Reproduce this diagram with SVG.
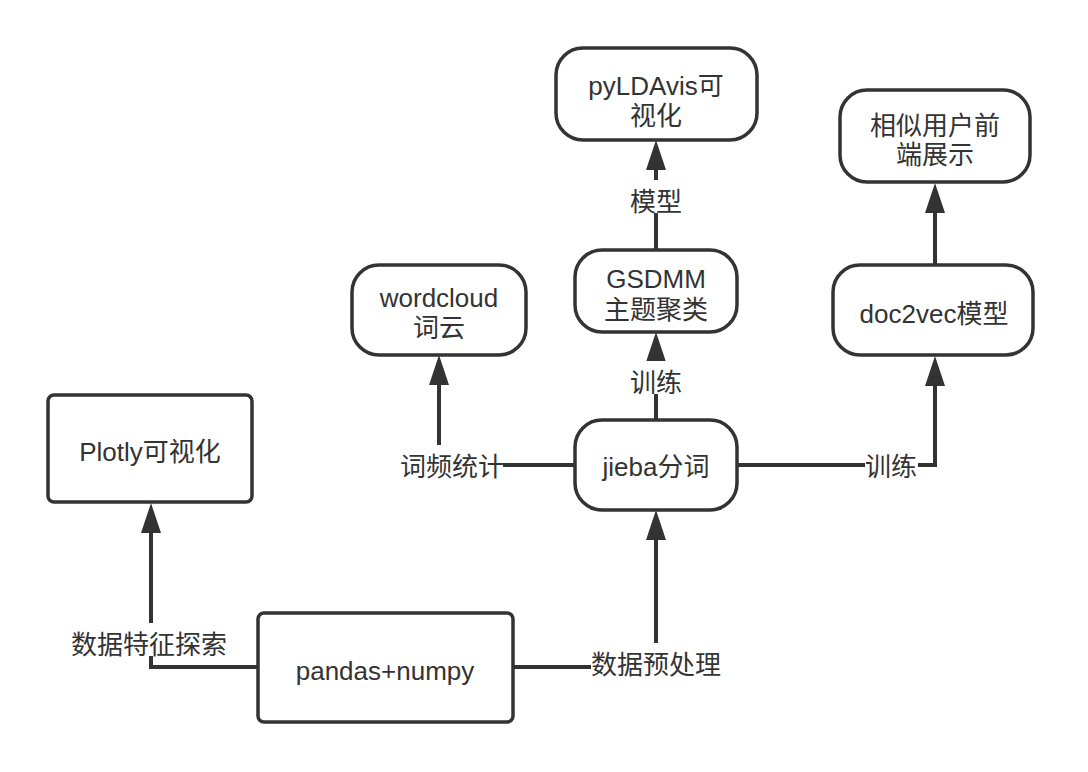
<svg xmlns="http://www.w3.org/2000/svg" width="1088" height="772" viewBox="0 0 1088 772">
<style>
.box{fill:#fff;stroke:#333;stroke-width:3.5}
.edge{fill:none;stroke:#333;stroke-width:4}
.t{font-family:"Liberation Sans","Noto Sans CJK SC",sans-serif;font-size:26px;fill:#333;text-anchor:middle}
.lbg{fill:#fff}
</style>
<defs>
<marker id="arr" markerUnits="userSpaceOnUse" markerWidth="32" markerHeight="22" refX="0" refY="11" orient="auto" overflow="visible">
<path d="M0,1 L30,11 L0,21 z" fill="#333"/>
</marker>
</defs>
<rect width="1088" height="772" fill="#fff"/>
<g id="connectors">
<path class="edge" d="M258,667 H151 V533" marker-end="url(#arr)"/>
<path class="edge" d="M513,667 H656 V540" marker-end="url(#arr)"/>
<path class="edge" d="M575,465 H439 V385" marker-end="url(#arr)"/>
<path class="edge" d="M656,420 V362" marker-end="url(#arr)"/>
<path class="edge" d="M656,250 V170" marker-end="url(#arr)"/>
<path class="edge" d="M737,465 H935 V386" marker-end="url(#arr)"/>
<path class="edge" d="M935,265 V213" marker-end="url(#arr)"/>
<rect class="lbg" x="401" y="445" width="102" height="33"/>
<text class="t" x="452" y="476">词频统计</text>
<rect class="lbg" x="865" y="445" width="53" height="33"/>
<text class="t" x="891" y="476">训练</text>
<rect class="lbg" x="630" y="361" width="52" height="33"/>
<text class="t" x="656" y="392">训练</text>
<rect class="lbg" x="630" y="180" width="52" height="33"/>
<text class="t" x="656" y="211">模型</text>
<rect class="lbg" x="71" y="623" width="156" height="33"/>
<text class="t" x="149" y="654">数据特征探索</text>
<rect class="lbg" x="591" y="643" width="130" height="33"/>
<text class="t" x="656" y="674">数据预处理</text>
</g>
<g id="pyldavis">
<rect class="box" x="556" y="48" width="201" height="92" rx="27"/>
<text class="t" x="656" y="95">pyLDAvis可</text>
<text class="t" x="656" y="125">视化</text>
</g>
<g id="similar">
<rect class="box" x="840" y="90" width="190" height="92" rx="27"/>
<text class="t" x="935" y="135">相似用户前</text>
<text class="t" x="935" y="164">端展示</text>
</g>
<g id="wordcloud">
<rect class="box" x="352" y="265" width="174" height="90" rx="27"/>
<text class="t" x="439" y="307">wordcloud</text>
<text class="t" x="439" y="337">词云</text>
</g>
<g id="gsdmm">
<rect class="box" x="575" y="250" width="162" height="82" rx="27"/>
<text class="t" x="656" y="288">GSDMM</text>
<text class="t" x="656" y="319">主题聚类</text>
</g>
<g id="doc2vec">
<rect class="box" x="833" y="265" width="200" height="90" rx="27"/>
<text class="t" x="934" y="323">doc2vec模型</text>
</g>
<g id="plotly">
<rect class="box" x="48" y="395" width="204" height="107" rx="6"/>
<text class="t" x="150" y="461">Plotly可视化</text>
</g>
<g id="jieba">
<rect class="box" x="575" y="420" width="162" height="90" rx="27"/>
<text class="t" x="656" y="476">jieba分词</text>
</g>
<g id="pandas">
<rect class="box" x="258" y="613" width="255" height="109" rx="6"/>
<text class="t" x="385" y="680">pandas+numpy</text>
</g>
</svg>
